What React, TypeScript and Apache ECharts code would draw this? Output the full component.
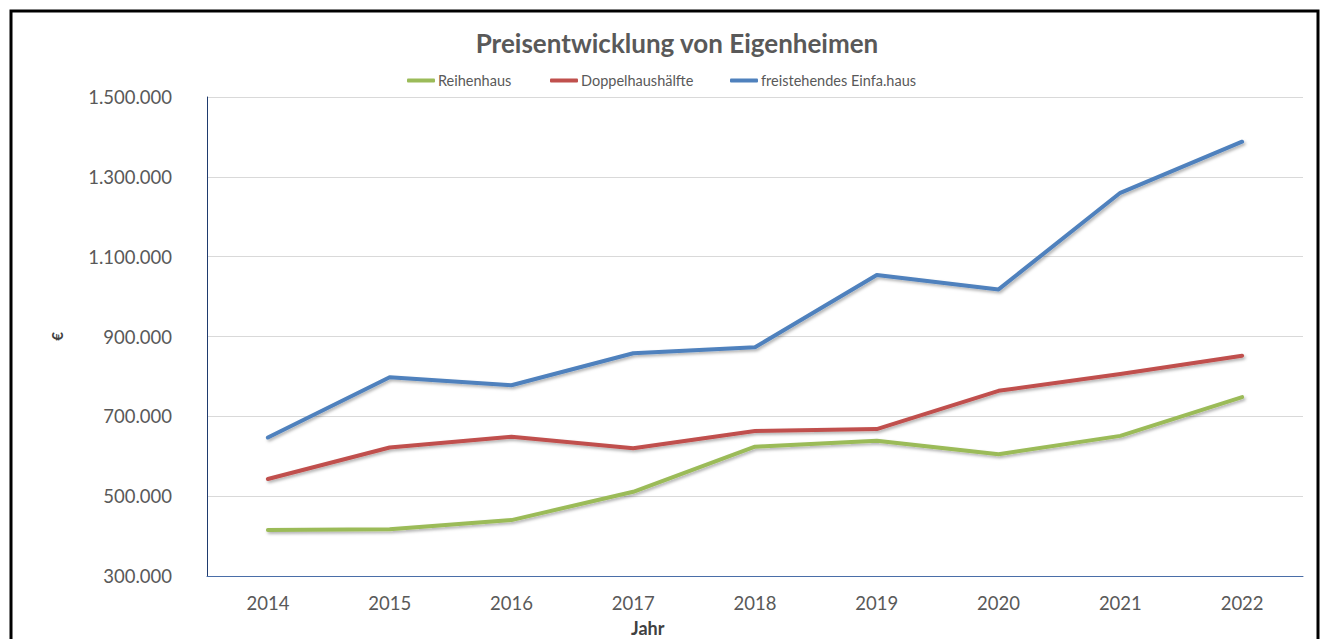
import React, { useEffect, useRef } from "react";
import * as echarts from "echarts";

const years = ["2014", "2015", "2016", "2017", "2018", "2019", "2020", "2021", "2022"];
const reihenhaus = [415000, 417000, 440000, 511000, 624000, 639000, 605000, 651000, 748000];
const doppelhaushaelfte = [543000, 622000, 649000, 620000, 663000, 668000, 764000, 806000, 852000];
const einfamilienhaus = [647000, 798000, 778000, 858000, 873000, 1054000, 1018000, 1260000, 1388000];

const seriesNames = ["Reihenhaus", "Doppelhaushälfte", "freistehendes Einfa.haus"];
const seriesColors = ["#9BBB59", "#C0504D", "#4F81BD"];
const legendLefts = [402, 545, 725];

const fmt = (v: number) => String(v).replace(/\B(?=(\d{3})+(?!\d))/g, ".");

export default function App() {
  const ref = useRef<HTMLDivElement>(null);
  useEffect(() => {
    if (!ref.current) return;
    const chart = echarts.init(ref.current, undefined, { renderer: "svg" });
    const font = "Lato, 'Open Sans', sans-serif";
    const dataSets = [reihenhaus, doppelhaushaelfte, einfamilienhaus];
    chart.setOption({
      animation: false,
      backgroundColor: "#ffffff",
      textStyle: { fontFamily: font },
      title: {
        text: "Preisentwicklung von Eigenheimen",
        left: 672,
        textAlign: "center",
        top: 25,
        textStyle: { fontFamily: font, fontSize: 26, fontWeight: "bold", color: "#595959" },
      },
      legend: seriesNames.map((n, i) => ({
        data: [n],
        left: legendLefts[i],
        top: 68,
        icon: "roundRect",
        itemWidth: 28,
        itemHeight: 4,
        itemGap: 0,
        textStyle: { fontFamily: font, fontSize: 14.5, color: "#595959", padding: [0, 0, 0, -2] },
      })),
      grid: { left: 207, top: 97, right: 21, bottom: 63, containLabel: false },
      xAxis: {
        type: "category",
        data: years,
        boundaryGap: true,
        axisLine: { lineStyle: { color: "#4A6EA8", width: 1 } },
        axisTick: { show: false },
        axisLabel: { color: "#595959", fontSize: 18.5, fontFamily: font, margin: 17 },
        splitLine: { show: false },
      },
      yAxis: {
        type: "value",
        min: 300000,
        max: 1500000,
        interval: 200000,
        name: "€",
        nameLocation: "middle",
        nameRotate: 90,
        nameGap: 143,
        nameTextStyle: { fontFamily: font, fontSize: 15, fontWeight: "bold", color: "#404040" },
        axisLine: { show: true, lineStyle: { color: "#1F3B6E", width: 1 } },
        axisTick: { show: false },
        axisLabel: { color: "#595959", fontSize: 18.5, fontFamily: font, margin: 35, formatter: (v: number) => fmt(v) },
        splitLine: { lineStyle: { color: "#D9D9D9", width: 1 } },
      },
      series: seriesNames.map((n, i) => ({
        name: n,
        type: "line",
        data: dataSets[i],
        symbol: "none",
        color: seriesColors[i],
        lineStyle: {
          width: 4,
          color: seriesColors[i],
          cap: "round",
          join: "round",
          shadowColor: "rgba(0,0,0,0.3)",
          shadowBlur: 3,
          shadowOffsetX: 1.5,
          shadowOffsetY: 2,
        },
        itemStyle: { color: seriesColors[i] },
      })),
      graphic: [
        {
          type: "text",
          left: 631,
          top: 619,
          style: { text: "Jahr", font: "bold 18px Lato, sans-serif", fill: "#404040" },
        },
        {
          type: "rect",
          shape: { x: 11, y: 11, width: 1307, height: 700 },
          style: { fill: "none", stroke: "#000000", lineWidth: 3 },
          silent: true,
        },
      ],
    });
    return () => chart.dispose();
  }, []);
  return (
    <div
      ref={ref}
      style={{ position: "absolute", left: 0, top: 0, width: 1324, height: 639 }}
    />
  );
}
